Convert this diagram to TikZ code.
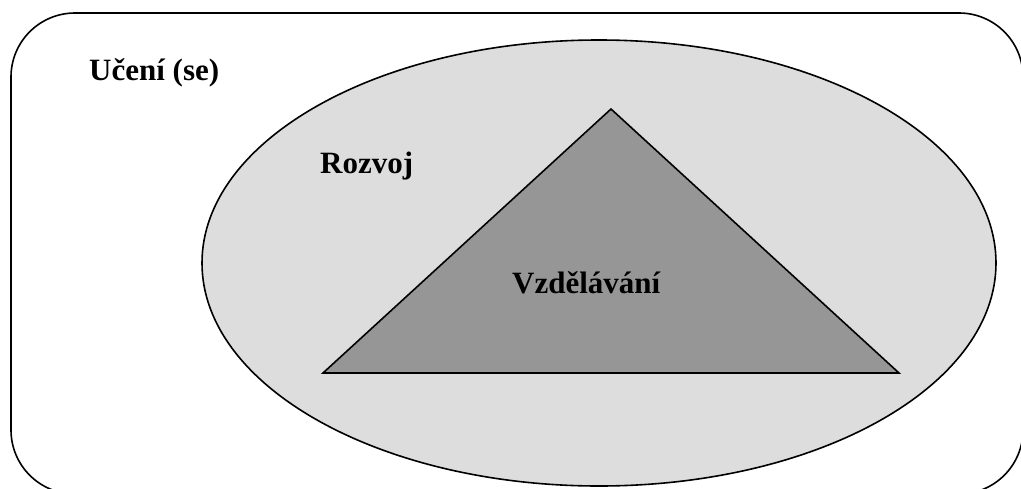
\documentclass[tikz,border=0pt]{standalone}
\usepackage{fontspec}
\setmainfont{Liberation Serif}
\usepackage{xcolor}
\usepackage{tikz}

\definecolor{outerfill}{HTML}{DDDDDD}
\definecolor{innerfill}{HTML}{969696}

\begin{document}
\begin{tikzpicture}[
  x=1pt, y=-1pt,
  outline/.style={draw=black, line width=1.6pt},
  label/.style={anchor=base west, inner sep=0pt,
    font=\fontsize{31}{37}\selectfont\bfseries}
]
\useasboundingbox (0,0) rectangle (1021,488);
\clip (0,0) rectangle (1021,488);
\draw[outline, rounded corners=64pt] (11,13) rectangle (1023,494);
\draw[outline, fill=outerfill] (599,263) ellipse [x radius=397pt, y radius=223pt];
\draw[outline, fill=innerfill] (611,109) -- (899,373) -- (323,373) -- cycle;

\node[label] (learning) at (89,80) {Učení (se)};
\node[label] (growth) at (320,173) {Rozvoj};
\node[label] (education) at (512,293) {Vzdělávání};
\end{tikzpicture}
\end{document}
